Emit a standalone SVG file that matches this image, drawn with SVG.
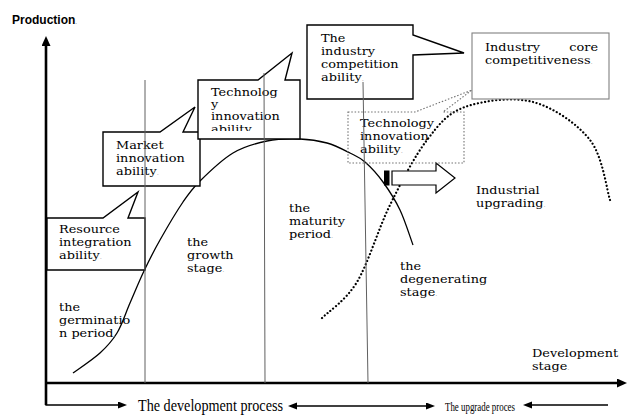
<svg xmlns="http://www.w3.org/2000/svg" width="630" height="419" viewBox="0 0 630 419">
<style>
  text { font-family: "DejaVu Serif", "Liberation Serif", serif; font-size: 11px; fill: #000; }
  .pm { font-size: 6px; fill: #999; }
  .box { fill: #fff; stroke: #000; stroke-width: 1.4; stroke-linejoin: miter; }
  .gbox { fill: #fff; stroke: #808080; stroke-width: 1.1; }
  .dbox { fill: none; stroke: #707070; stroke-width: 1.1; stroke-dasharray: 1.5 1.8; }
  .vline { stroke: #606060; stroke-width: 1; fill: none; }
  .axis { stroke: #000; stroke-width: 2.6; fill: none; }
  .thin { stroke: #000; stroke-width: 1.3; fill: none; }
  .curve { stroke: #000; stroke-width: 1.3; fill: none; }
  .dots { stroke: #000; stroke-width: 2.2; fill: none; stroke-dasharray: 0.1 3.6; stroke-linecap: round; }
  .bottom { font-family: "Liberation Serif", serif; }
</style>
<defs>
  <marker id="bigHead" markerUnits="userSpaceOnUse" markerWidth="11" markerHeight="10" refX="5" refY="4.5" orient="auto">
    <path d="M0,0 L10,4.5 L0,9 Z" fill="#000"/>
  </marker>
  <marker id="smallHead" markerUnits="userSpaceOnUse" markerWidth="10" markerHeight="8" refX="4" refY="3.5" orient="auto-start-reverse">
    <path d="M0,0 L9,3.5 L0,7 Z" fill="#000"/>
  </marker>
  <clipPath id="techClip"><rect x="199" y="81" width="100" height="50"/></clipPath>
</defs>

<rect width="630" height="419" fill="#fff"/>

<g id="connectors">
  <path class="curve" d="M73,373 C77.5,369.7 92.7,359.7 100,353 C107.3,346.3 112,341.3 117,333 C122,324.7 125.5,313.3 130,303 C134.5,292.7 139,281.5 144,271 C149,260.5 153.5,251.5 160,240 C166.5,228.5 176.3,211.8 183,202 C189.7,192.2 191.7,189.2 200,181 C208.3,172.8 221.8,159.7 233,153 C244.2,146.3 255.8,143.3 267,141 C278.2,138.7 290,138.7 300,139 C310,139.3 318.7,140.7 327,143 C335.3,145.3 343.7,149.8 350,153 C356.3,156.2 359.5,157.2 365,162 C370.5,166.8 377.2,174 383,182 C388.8,190 395,199.5 400,210 C405,220.5 410.8,239.2 413,245"/>
  <path class="dots" d="M322,318 C327.8,312 345.7,300.8 357,282 C368.3,263.2 378.3,228.7 390,205 C401.7,181.3 414.5,156.3 427,140 C439.5,123.7 447.3,113.3 465,107 C482.7,100.7 512.2,96.5 533,102 C553.8,107.5 577.2,123.7 590,140 C602.8,156.3 606.7,190 610,200"/>
  <rect x="384" y="170.5" width="5.5" height="15" fill="#000"/>
  <path d="M392,171 L436,171 L436,163 L455,178 L436,193 L436,185 L392,185 Z" fill="#fff" stroke="#000" stroke-width="1.2"/>
  <line class="axis" x1="46" y1="405" x2="46" y2="41" marker-end="url(#bigHead)"/>
  <line class="axis" x1="45" y1="383" x2="622" y2="383" marker-end="url(#bigHead)"/>
  <path class="thin" d="M46,404 L46,405 L122,405" marker-end="url(#smallHead)"/>
  <line class="thin" x1="293" y1="406" x2="430" y2="406" marker-start="url(#smallHead)" marker-end="url(#smallHead)"/>
  <line class="thin" x1="608" y1="405" x2="528" y2="405" marker-end="url(#smallHead)"/>
</g>

<g id="node-resource">
  <path class="box" d="M47,218 L103,218 L138,192 L128,218 L145,218 L145,270 L47,270 Z"/>
  <g transform="translate(59,0) scale(1.17,1)">
    <text x="0" y="233">Resource</text>
    <text x="0" y="246">integration</text>
    <text x="0" y="259">ability<tspan class="pm">.</tspan></text>
  </g>
</g>

<g id="node-market">
  <path class="box" d="M103,132 L160,132 L195,107 L183,132 L200,132 L200,186 L103,186 Z"/>
  <g transform="translate(116,0) scale(1.17,1)">
    <text x="0" y="149">Market</text>
    <text x="0" y="162">innovation</text>
    <text x="0" y="175">ability<tspan class="pm">.</tspan></text>
  </g>
</g>

<g id="node-technology">
  <path class="box" d="M198,80 L258,80 L292,53 L285,80 L300,80 L300,139 L198,139 Z"/>
  <g clip-path="url(#techClip)">
    <g transform="translate(211,0) scale(1.17,1)">
      <text x="0" y="96">Technolog</text>
      <text x="0" y="108">y</text>
      <text x="0" y="120">innovation</text>
      <text x="0" y="133">ability<tspan class="pm">.</tspan></text>
    </g>
  </g>
</g>

<g id="node-competition">
  <path class="box" d="M307,25 L413,25 L413,35 L464,53 L413,55 L413,99 L307,99 Z"/>
  <g transform="translate(321,0) scale(1.17,1)">
    <text x="0" y="42">The</text>
    <text x="0" y="55">industry</text>
    <text x="0" y="68">competition</text>
    <text x="0" y="81">ability<tspan class="pm">.</tspan></text>
  </g>
</g>

<g id="node-core">
  <rect class="gbox" x="472" y="33" width="137" height="66"/>
  <g transform="translate(485,0) scale(1.17,1)">
    <text x="0" y="51">Industry</text>
    <text x="96.6" y="51" text-anchor="end">core</text>
    <text x="0" y="64">competitiveness<tspan class="pm">.</tspan></text>
  </g>
</g>

<g id="node-tech2">
  <path class="dbox" d="M348,112 L415,112 L472,90 L443,112 L464,112 L464,163 L348,163 Z"/>
  <g transform="translate(360,0) scale(1.17,1)">
    <text x="0" y="127">Technology</text>
    <text x="0" y="140">innovation</text>
    <text x="0" y="153">ability<tspan class="pm">.</tspan></text>
  </g>
</g>

<g id="stage-lines">
  <line class="vline" x1="145" y1="80" x2="145" y2="383"/>
  <line class="vline" x1="264" y1="73" x2="265" y2="383"/>
  <line class="vline" x1="363" y1="82" x2="368" y2="383"/>
</g>

<g id="label-germination" transform="translate(59,0) scale(1.17,1)">
  <text x="0" y="311">the</text>
  <text x="0" y="324">germinatio</text>
  <text x="0" y="337">n period<tspan class="pm">.</tspan></text>
</g>
<g id="label-growth" transform="translate(187,0) scale(1.17,1)">
  <text x="0" y="246">the</text>
  <text x="0" y="259">growth</text>
  <text x="0" y="272">stage<tspan class="pm">.</tspan></text>
</g>
<g id="label-maturity" transform="translate(289,0) scale(1.17,1)">
  <text x="0" y="212">the</text>
  <text x="0" y="225">maturity</text>
  <text x="0" y="238">period<tspan class="pm">.</tspan></text>
</g>
<g id="label-degenerating" transform="translate(400,0) scale(1.17,1)">
  <text x="0" y="270">the</text>
  <text x="0" y="283">degenerating</text>
  <text x="0" y="296">stage<tspan class="pm">.</tspan></text>
</g>
<g id="label-upgrading" transform="translate(476,0) scale(1.17,1)">
  <text x="0" y="194">Industrial</text>
  <text x="0" y="207">upgrading<tspan class="pm">.</tspan></text>
</g>
<g id="label-devstage" transform="translate(532,0) scale(1.17,1)">
  <text x="0" y="357">Development</text>
  <text x="0" y="370">stage<tspan class="pm">.</tspan></text>
</g>
<g id="label-production">
  <text x="12" y="24" style="font-family:'Liberation Sans',Arial,sans-serif;font-size:12px;font-weight:bold">Production<tspan class="pm">.</tspan></text>
</g>
<g id="label-process">
  <text class="bottom" x="138" y="411" style="font-size:16px" textLength="145" lengthAdjust="spacingAndGlyphs">The development process</text>
  <text class="bottom" x="445" y="411" style="font-size:12px" textLength="70" lengthAdjust="spacingAndGlyphs">The upgrade proces</text>
</g>
</svg>
